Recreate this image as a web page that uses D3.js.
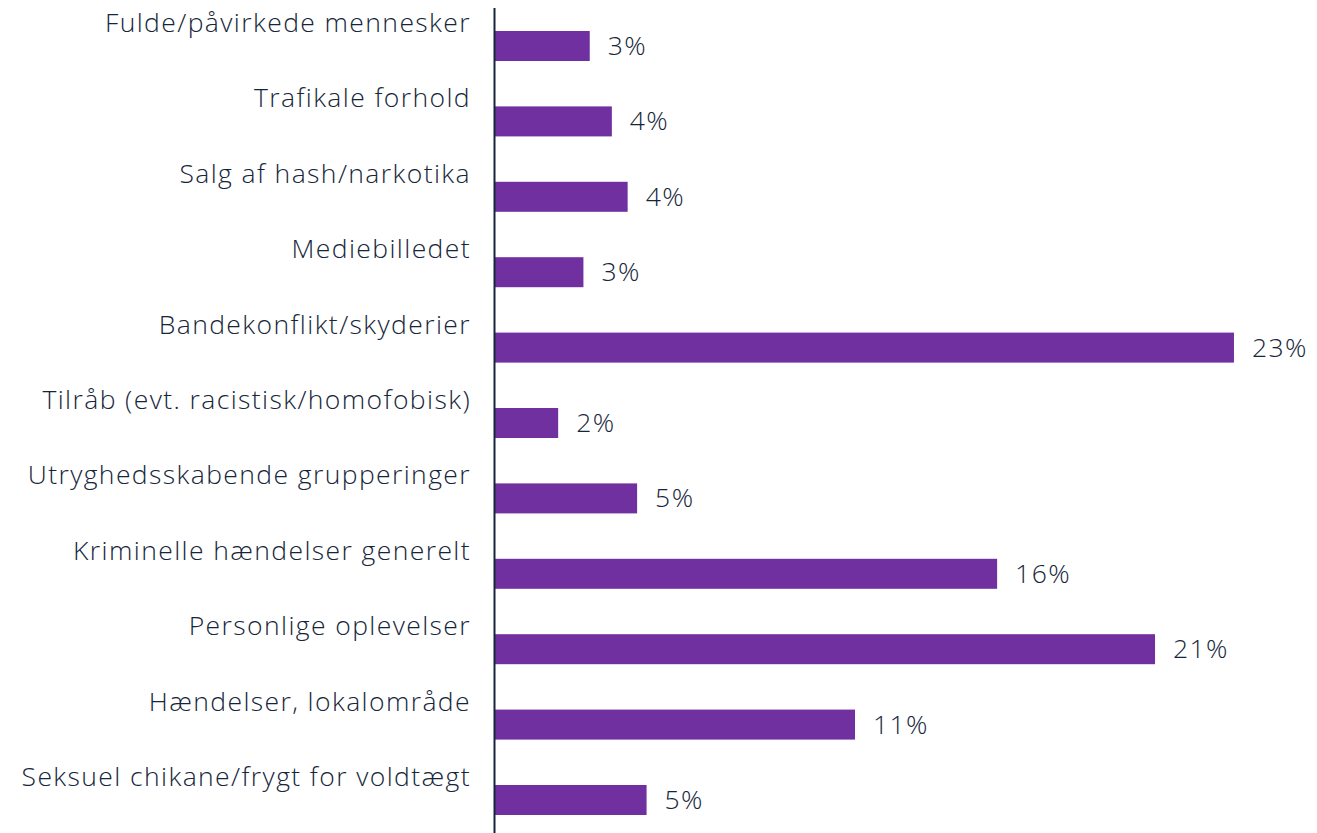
<!DOCTYPE html>
<html>
<head>
<meta charset="utf-8">
<script src="https://cdn.jsdelivr.net/npm/d3@7"></script>
<style>
  body { margin: 0; background: #fff; }
  .label { font-family: "Open Sans", Lato, sans-serif; font-weight: 350; fill: #16263a; letter-spacing: 1.4px; }
</style>
</head>
<body>
<div class="graph"></div>
<script>
var categories = [
  "Fulde/påvirkede mennesker",
  "Trafikale forhold",
  "Salg af hash/narkotika",
  "Mediebilledet",
  "Bandekonflikt/skyderier",
  "Tilråb (evt. racistisk/homofobisk)",
  "Utryghedsskabende grupperinger",
  "Kriminelle hændelser generelt",
  "Personlige oplevelser",
  "Hændelser, lokalområde",
  "Seksuel chikane/frygt for voldtægt"
];
var values = [3.0, 3.7, 4.2, 2.8, 23.4, 2.0, 4.5, 15.9, 20.9, 11.4, 4.8];

var width = 1317, height = 833;
var margin = {top: 31, left: 495, bottom: 18};

var data = categories.map(function(c, i) { return {name: c, value: values[i]}; });

var x = d3.scaleLinear()
    .domain([0, 25])
    .range([margin.left, margin.left + 25 * 31.58]);

var y = d3.scaleBand()
    .domain(categories)
    .range([margin.top, height - margin.bottom])
    .paddingInner(0.602)
    .paddingOuter(0);

var svg = d3.select(".graph").append("svg")
    .attr("width", width)
    .attr("height", height);

svg.selectAll(".bar")
    .data(data)
  .enter().append("rect")
    .attr("class", "bar")
    .attr("x", x(0))
    .attr("y", function(d) { return y(d.name); })
    .attr("width", function(d) { return x(d.value) - x(0); })
    .attr("height", y.bandwidth())
    .style("fill", "#7030a0");

// category labels sit above-left of each bar
svg.selectAll(".cat")
    .data(data)
  .enter().append("text")
    .attr("class", "label cat")
    .attr("x", x(0) - 24)
    .attr("y", function(d) { return y(d.name) + 1; })
    .attr("text-anchor", "end")
    .style("font-size", "26.5px")
    .text(function(d) { return d.name; });

svg.selectAll(".val")
    .data(data)
  .enter().append("text")
    .attr("class", "label val")
    .attr("x", function(d) { return x(d.value) + 18; })
    .attr("y", function(d) { return y(d.name) + y.bandwidth() / 2 + 9; })
    .style("font-size", "26.5px")
    .text(function(d) { return Math.round(d.value) + "%"; });

// vertical axis line
svg.append("line")
    .attr("x1", x(0) - 0.5)
    .attr("x2", x(0) - 0.5)
    .attr("y1", 8)
    .attr("y2", height)
    .style("stroke", "#16263a")
    .style("stroke-width", 2);
</script>
</body>
</html>
